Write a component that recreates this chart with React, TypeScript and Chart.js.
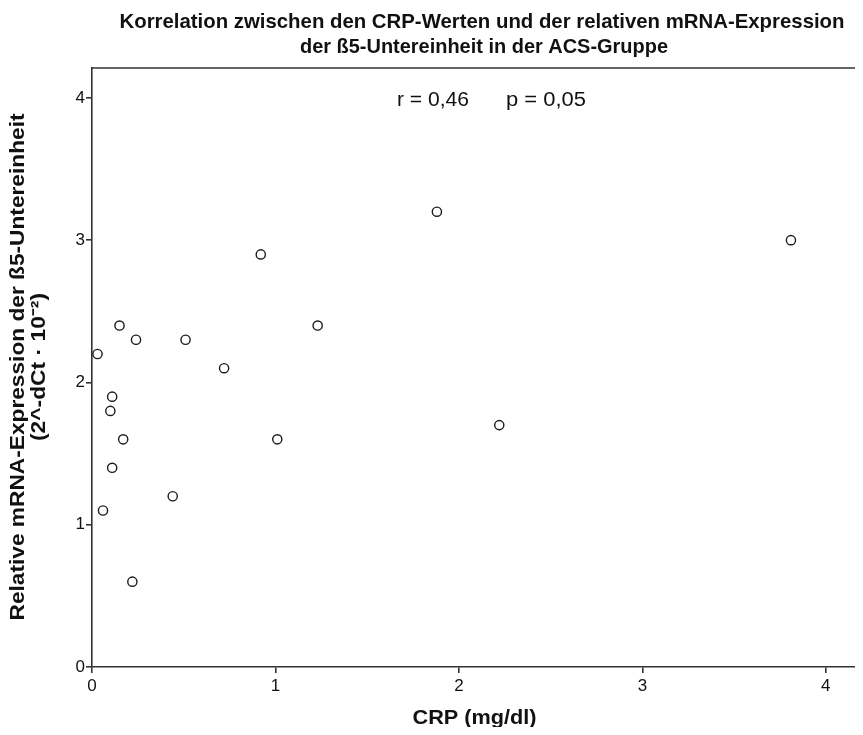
import { useEffect, useRef } from 'react';
import { Chart, registerables } from 'chart.js';
Chart.register(...registerables);

const crpValues = [0.03, 0.15, 0.24, 0.11, 0.10, 0.17, 0.11, 0.06, 0.22, 0.44, 0.51, 0.72, 0.92, 1.01, 1.23, 1.88, 2.22, 3.81];
const exprValues = [2.2, 2.4, 2.3, 1.9, 1.8, 1.6, 1.4, 1.1, 0.6, 1.2, 2.3, 2.1, 2.9, 1.6, 2.4, 3.2, 1.7, 3.0];
const titleLines = [
  'Korrelation zwischen den CRP-Werten und der relativen mRNA-Expression',
  'der ß5-Untereinheit in der ACS-Gruppe',
];
const yTitleLines = ['Relative mRNA-Expression der ß5-Untereinheit', '(2^-dCt · 10⁻²)'];
const xTitle = 'CRP (mg/dl)';
const statsR = 'r = 0,46';
const statsP = 'p = 0,05';

const FONT = '"Liberation Sans", Arial, sans-serif';
const AXIS = '#333';

function fitText(ctx: CanvasRenderingContext2D, text: string, x: number, y: number, width: number, align: 'left' | 'center') {
  const w = ctx.measureText(text).width;
  const sx = width / w;
  ctx.save();
  ctx.translate(x, y);
  ctx.scale(sx, 1);
  ctx.textAlign = align;
  ctx.fillText(text, 0, 0);
  ctx.restore();
}

const textPlugin = {
  id: 'textPlugin',
  afterDraw(chart: any) {
    const ctx: CanvasRenderingContext2D = chart.ctx;
    const a = chart.chartArea;
    ctx.save();
    ctx.strokeStyle = AXIS;
    ctx.lineWidth = 1.6;
    ctx.beginPath();
    ctx.moveTo(a.left, a.top);
    ctx.lineTo(a.right, a.top);
    ctx.stroke();

    ctx.fillStyle = '#111';
    ctx.textBaseline = 'middle';
    ctx.font = `bold 21px ${FONT}`;
    fitText(ctx, titleLines[0], 474, 14, 725, 'center');
    fitText(ctx, titleLines[1], 476, 39, 368, 'center');

    ctx.font = `20px ${FONT}`;
    fitText(ctx, statsR, 389, 92, 72, 'left');
    fitText(ctx, statsP, 498, 92, 80, 'left');

    ctx.font = `bold 21px ${FONT}`;
    fitText(ctx, xTitle, (a.left + a.right) / 2, 710, 124, 'center');

    ctx.save();
    ctx.translate(10, 359);
    ctx.rotate(-Math.PI / 2);
    ctx.font = `bold 20px ${FONT}`;
    fitText(ctx, yTitleLines[0], 0, 0, 507, 'center');
    fitText(ctx, yTitleLines[1], 0, 21, 148, 'center');
    ctx.restore();
    ctx.restore();
  },
};

export default function App() {
  const ref = useRef<HTMLCanvasElement>(null);
  useEffect(() => {
    if (!ref.current) return;
    const chart = new Chart(ref.current, {
      type: 'scatter',
      data: {
        datasets: [
          {
            data: crpValues.map((x, i) => ({ x, y: exprValues[i] })),
            pointStyle: 'circle',
            pointRadius: 4.6,
            pointBorderWidth: 1.4,
            borderColor: '#1a1a1a',
            backgroundColor: '#fff',
          },
        ],
      },
      options: {
        animation: false,
        responsive: false,
        layout: { padding: { top: 60, right: 0, left: 0, bottom: 0 } },
        plugins: { legend: { display: false }, tooltip: { enabled: false }, title: { display: false } },
        scales: {
          x: {
            type: 'linear',
            min: 0,
            max: 4.17,
            afterFit: (s: any) => { s.height = 60; },
            ticks: { stepSize: 1, includeBounds: false, color: '#111', font: { family: FONT, size: 17 }, padding: 3 },
            grid: { display: true, drawOnChartArea: false, drawTicks: true, tickLength: 6, color: AXIS, lineWidth: 1.6 },
            border: { display: true, color: AXIS, width: 1.6 },
          },
          y: {
            type: 'linear',
            min: 0,
            max: 4.21,
            afterFit: (s: any) => { s.width = 84; },
            ticks: { stepSize: 1, includeBounds: false, color: '#111', font: { family: FONT, size: 17 }, padding: 1 },
            grid: { display: true, drawOnChartArea: false, drawTicks: true, tickLength: 6, color: AXIS, lineWidth: 1.6 },
            border: { display: true, color: AXIS, width: 1.6 },
          },
        },
      },
      plugins: [textPlugin],
    });
    return () => chart.destroy();
  }, []);
  return <canvas ref={ref} width={855} height={719} style={{ display: 'block' }} />;
}
